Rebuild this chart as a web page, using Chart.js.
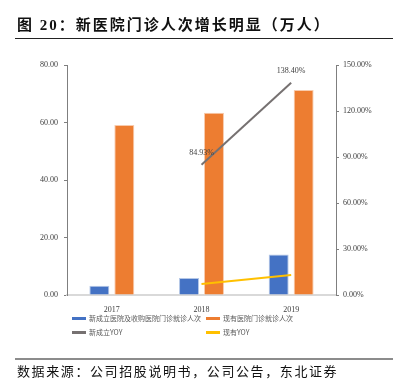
<!DOCTYPE html>
<html>
<head>
<meta charset="utf-8">
<script src="https://cdn.jsdelivr.net/npm/chart.js@4.4.1/dist/chart.umd.min.js"></script>
<style>
  html, body { margin:0; padding:0; background:#fff; }
  #wrap { position:relative; width:393px; height:389px; overflow:hidden; font-family:"Liberation Serif","Noto Sans CJK SC",serif; }
  #c { position:absolute; left:0; top:0; }
  .title { position:absolute; left:17px; top:16px; font-size:15px; line-height:18px; font-weight:bold; letter-spacing:2px; color:#111; white-space:nowrap; }
  .rule-top { position:absolute; left:15px; top:38px; width:378px; height:1px; background:#222; }
  .rule-bot { position:absolute; left:15px; top:358px; width:378px; height:2px; background:#8c8c8c; }
  .source { position:absolute; left:17px; top:363px; font-size:13px; line-height:16px; letter-spacing:1.6px; color:#111; white-space:nowrap; font-family:"Noto Sans CJK SC",sans-serif; }
  .lg { position:absolute; font-size:7px; line-height:9px; color:#595959; white-space:nowrap; font-family:"Noto Sans CJK SC","Liberation Serif",sans-serif; }
  .lg i { display:inline-block; width:14px; height:3px; vertical-align:middle; margin-right:3px; position:relative; top:-1px; }
</style>
</head>
<body>
<div id="wrap">
  <canvas id="c" width="393" height="389"></canvas>
  <div class="title">图 20：新医院门诊人次增长明显（万人）</div>
  <div class="rule-top"></div>
  <div id="legend"></div>
  <div class="rule-bot"></div>
  <div class="source">数据来源：公司招股说明书，公司公告，东北证券</div>
</div>
<script>
'use strict';
// ── Data ─────────────────────────────────────────────────
const YEARS      = ['2017', '2018', '2019'];
const NEW_VISITS = [3.2, 5.95, 14.1];     // 新成立医院及收购医院门诊就诊人次
const OLD_VISITS = [59.1, 63.4, 71.3];    // 现有医院门诊就诊人次
const NEW_YOY    = [null, 84.93, 138.40]; // 新成立YOY (%)
const OLD_YOY    = [null, 7.2, 13.0];     // 现有YOY (%)
const LEFT_TICKS  = [0, 20, 40, 60, 80];
const RIGHT_TICKS = [0, 30, 60, 90, 120, 150];

const NAMES  = ['新成立医院及收购医院门诊就诊人次', '现有医院门诊就诊人次', '新成立YOY', '现有YOY'];
const COLORS = ['#4472c4', '#ed7d31', '#767171', '#ffc000'];

const $ = id => document.getElementById(id);

// ── Legend (two rows, two columns) ───────────────────────
const LG_POS = [[72, 314], [206, 314], [72, 328], [206, 328]];
$('legend').innerHTML = NAMES.map((n, i) =>
  `<div class="lg" style="left:${LG_POS[i][0]}px;top:${LG_POS[i][1]}px"><i style="background:${COLORS[i]}"></i>${n}</div>`
).join('');

// ── Value labels on the 新成立YOY line ───────────────────
const yoyLabels = {
  id: 'yoyLabels',
  afterDatasetsDraw(chart) {
    const meta = chart.getDatasetMeta(2);
    const ctx = chart.ctx;
    ctx.save();
    ctx.font = '8px "Liberation Serif", serif';
    ctx.fillStyle = '#404040';
    ctx.textAlign = 'center';
    ctx.textBaseline = 'bottom';
    meta.data.forEach((pt, i) => {
      const v = NEW_YOY[i];
      if (v == null) return;
      ctx.fillText(v.toFixed(2) + '%', pt.x, pt.y - 8);
    });
    ctx.restore();
  }
};

const tickFont = { family: '"Liberation Serif", serif', size: 8 };

new Chart($('c').getContext('2d'), {
  data: {
    labels: YEARS,
    datasets: [
      { type:'bar', label:NAMES[0], data:NEW_VISITS, yAxisID:'y', backgroundColor:COLORS[0], borderColor:'#b4c7e7', borderWidth:1, categoryPercentage:0.557, barPercentage:0.8, order:3 },
      { type:'bar', label:NAMES[1], data:OLD_VISITS, yAxisID:'y', backgroundColor:COLORS[1], borderColor:'#f8cbad', borderWidth:1, categoryPercentage:0.557, barPercentage:0.8, order:3 },
      { type:'line', label:NAMES[2], data:NEW_YOY, yAxisID:'y1', borderColor:COLORS[2], borderWidth:2, pointRadius:0, fill:false, order:1 },
      { type:'line', label:NAMES[3], data:OLD_YOY, yAxisID:'y1', borderColor:COLORS[3], borderWidth:2, pointRadius:0, fill:false, order:2 },
    ]
  },
  options: {
    responsive:false, animation:false,
    layout: { padding: { top:65, left:0, right:0, bottom:0 } },
    plugins: { legend:{ display:false }, tooltip:{ enabled:false } },
    scales: {
      x: {
        offset:true,
        grid:{ display:false },
        border:{ color:'#d9d9d9', width:2 },
        ticks:{ color:'#404040', font:tickFont, padding:2 },
        afterFit: s => { s.height = 94; }
      },
      y: {
        position:'left', min:0, max:80,
        afterBuildTicks: s => { s.ticks = LEFT_TICKS.map(v => ({ value:v })); },
        grid:{ drawOnChartArea:false, drawTicks:true, tickLength:3, color:'#7f7f7f' },
        border:{ color:'#7f7f7f', width:1 },
        ticks:{ color:'#404040', font:tickFont, padding:6, callback: v => v.toFixed(2) },
        afterFit: s => { s.width = 67; }
      },
      y1: {
        position:'right', min:0, max:150,
        afterBuildTicks: s => { s.ticks = RIGHT_TICKS.map(v => ({ value:v })); },
        grid:{ drawOnChartArea:false, drawTicks:true, tickLength:3, color:'#7f7f7f' },
        border:{ color:'#7f7f7f', width:1 },
        ticks:{ color:'#404040', font:tickFont, padding:4, callback: v => v.toFixed(2) + '%' },
        afterFit: s => { s.width = 57; }
      }
    }
  },
  plugins: [yoyLabels]
});
</script>
</body>
</html>
